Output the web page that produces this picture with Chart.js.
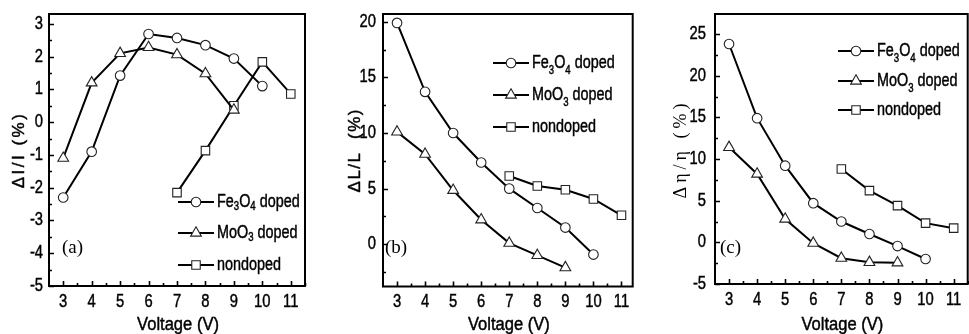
<!DOCTYPE html>
<html>
<head>
<meta charset="utf-8">
<script src="https://cdn.jsdelivr.net/npm/chart.js@4.4.0/dist/chart.umd.min.js"></script>
<style>
  html, body { margin: 0; padding: 0; background: #fff; overflow: hidden; width: 969px; height: 334px; }
  .panel { position: absolute; top: 0; height: 334px; }
</style>
</head>
<body>
<div class="panel" style="left:0;width:320px"><canvas id="chartA" width="320" height="334"></canvas></div>
<div class="panel" style="left:320px;width:320px"><canvas id="chartB" width="320" height="334"></canvas></div>
<div class="panel" style="left:640px;width:335px"><canvas id="chartC" width="335" height="334"></canvas></div>
<script>
// ** data
var seriesLabels = ['Fe_3O_4 doped', 'MoO_3 doped', 'nondoped'];
var feVolts = [3, 4, 5, 6, 7, 8, 9, 10];
var moVolts = [3, 4, 5, 6, 7, 8, 9];
var ndVolts = [7, 8, 9, 10, 11];
var xTicks = [3, 4, 5, 6, 7, 8, 9, 10, 11];

// (a) delta I / I
var aFe = [-2.3, -0.9, 1.42, 2.69, 2.57, 2.35, 1.94, 1.1];
var aMo = [-1.1, 1.2, 2.1, 2.28, 2.06, 1.48, 0.37];
var aNd = [-2.15, -0.87, 0.5, 1.84, 0.86];
var aYTicks = [-5, -4, -3, -2, -1, 0, 1, 2, 3];

// (b) delta L / L
var bFe = [19.9, 13.7, 10.0, 7.35, 5.0, 3.26, 1.5, -0.93];
var bMo = [10.1, 8.1, 4.85, 2.2, 0.1, -1.0, -2.1];
var bNd = [6.13, 5.23, 4.9, 4.07, 2.6];
var bYTicks = [0, 5, 10, 15, 20];

// (c) delta eta / eta
var cFe = [23.8, 14.9, 9.2, 4.7, 2.5, 1.0, -0.45, -2.0];
var cMo = [11.4, 8.2, 2.8, -0.1, -1.9, -2.4, -2.45];
var cNd = [8.8, 6.2, 4.4, 2.3, 1.7];
var cYTicks = [-5, 0, 5, 10, 15, 20, 25];

var SANS = '"Liberation Sans", Arial, sans-serif';
var SERIF = '"Liberation Serif", "Times New Roman", serif';
var FS = 18;
var markers = ['circle', 'triangle', 'rect'];
var markerRadius = [4.8, 6.2, 6];

function pts(xs, ys) {
	return xs.map(function(x, i) { return {x: x, y: ys[i]}; });
}

// text squeezed horizontally (Arial Narrow look), optionally rotated / spaced
function drawText(ctx, str, x, y, align, font, sx, rot, spacing, heavy) {
	ctx.save();
	ctx.translate(x, y);
	if (rot) ctx.rotate(rot);
	ctx.scale(sx, 1);
	ctx.font = font;
	ctx.letterSpacing = (spacing || 0) + 'px';
	ctx.textAlign = align;
	ctx.textBaseline = 'middle';
	ctx.fillText(str, 0, 0);
	if (heavy) {
		ctx.strokeStyle = '#000';
		ctx.lineWidth = 0.45;
		ctx.strokeText(str, 0, 0);
	}
	ctx.restore();
}

// '_' turns the next char into a subscript
function drawRich(ctx, str, x, y, size, sx, subDrop) {
	ctx.save();
	ctx.translate(x, y);
	ctx.scale(sx, 1);
	ctx.textAlign = 'left';
	ctx.textBaseline = 'middle';
	ctx.strokeStyle = '#000';
	ctx.lineWidth = 0.45;
	var cx = 0;
	for (var i = 0; i < str.length; i++) {
		var ch = str[i], sub = false;
		if (ch === '_') { sub = true; ch = str[++i]; }
		ctx.font = (sub ? Math.round(size * 0.68) : size) + 'px ' + SANS;
		ctx.fillText(ch, cx, sub ? subDrop : 0);
		ctx.strokeText(ch, cx, sub ? subDrop : 0);
		cx += ctx.measureText(ch).width;
	}
	ctx.restore();
}

var framePlugin = {
	id: 'frame',
	afterDraw: function(chart) {
		var ctx = chart.ctx, ca = chart.chartArea;
		var o = chart.options.plugins.frame;
		var xs = chart.scales.x, ys = chart.scales.y;
		ctx.save();
		ctx.strokeStyle = '#000';
		ctx.lineWidth = 2;
		ctx.strokeRect(ca.left, ca.top, ca.right - ca.left, ca.bottom - ca.top);

		// inward ticks, minor ones between the labelled ones
		ctx.lineWidth = 1.6;
		ctx.beginPath();
		for (var v = xs.min + 0.5; v <= xs.max + 1e-9; v += 0.5) {
			var px = Math.round(xs.getPixelForValue(v)) + 0.5;
			var len = (Math.abs(v - Math.round(v)) < 1e-9) ? 5 : 3;
			ctx.moveTo(px, ca.bottom);
			ctx.lineTo(px, ca.bottom - len);
		}
		var start = Math.ceil(ys.min / o.yMinor) * o.yMinor;
		for (var w = start; w <= ys.max + 1e-9; w += o.yMinor) {
			var py = Math.round(ys.getPixelForValue(w)) + 0.5;
			var isMajor = Math.abs(w / o.yMajor - Math.round(w / o.yMajor)) < 1e-6;
			ctx.moveTo(ca.left, py);
			ctx.lineTo(ca.left + (isMajor ? 5 : 3), py);
		}
		ctx.stroke();

		// tick labels and axis titles
		ctx.fillStyle = '#000';
		var f = FS + 'px ' + SANS;
		xs.ticks.forEach(function(t) {
			drawText(ctx, String(t.value), xs.getPixelForValue(t.value), ca.bottom + 16, 'center', f, 0.82, 0, 0, true);
		});
		ys.ticks.forEach(function(t) {
			drawText(ctx, String(t.value), ca.left - o.yLabelGap, ys.getPixelForValue(t.value), 'right', f, 0.82, 0, 0, true);
		});
		drawText(ctx, 'Voltage (V)', (ca.left + ca.right) / 2 + 1, 325, 'center', f, 0.92, 0, 0, true);
		var tf = o.yTitleSerif ? FS + 'px ' + SERIF : '17px ' + SANS;
		drawText(ctx, o.yTitle, o.yTitleX, (ca.top + ca.bottom) / 2, 'center', tf, 1, -Math.PI / 2, o.yTitleSpacing, !o.yTitleSerif);

		// panel letter
		drawText(ctx, o.tag, o.tagX, o.tagY, 'left', '19px ' + SERIF, 1);

		// legend: line + marker + label
		chart.data.datasets.forEach(function(ds, i) {
			var y = o.legendY[i];
			ctx.strokeStyle = '#000';
			ctx.lineWidth = 2;
			ctx.beginPath();
			ctx.moveTo(o.legendX, y);
			ctx.lineTo(o.legendX + 36, y);
			ctx.stroke();
			ctx.fillStyle = '#fff';
			ctx.strokeStyle = '#222';
			ctx.lineWidth = 1.1;
			Chart.helpers.drawPoint(ctx, {pointStyle: ds.pointStyle, radius: ds.pointRadius, rotation: 0, borderWidth: 1.1}, o.legendX + 18, y);
			ctx.fillStyle = '#000';
			drawRich(ctx, ds.label, o.legendX + 39, y, FS, 0.8, o.subDrop);
		});
		ctx.restore();
	}
};

function makePanel(id, p) {
	var sets = [pts(feVolts, p.fe), pts(moVolts, p.mo), pts(ndVolts, p.nd)];
	var datasets = sets.map(function(d, i) {
		return {
			label: seriesLabels[i],
			data: d,
			borderColor: '#000',
			borderWidth: 2,
			pointStyle: markers[i],
			pointRadius: markerRadius[i],
			pointBackgroundColor: '#fff',
			pointBorderColor: '#222',
			pointBorderWidth: 1.1,
			tension: 0,
			clip: false
		};
	});
	return new Chart(document.getElementById(id), {
		type: 'line',
		data: {datasets: datasets},
		options: {
			responsive: false,
			animation: false,
			events: [],
			layout: {padding: {top: 14, right: p.padRight, left: 0, bottom: 0}},
			plugins: {
				legend: {display: false},
				tooltip: {enabled: false},
				frame: {
					tag: p.tag, tagX: p.tagX, tagY: 248,
					legendX: p.legendX, legendY: p.legendY, subDrop: p.subDrop,
					yMajor: p.yMajor, yMinor: p.yMinor, yLabelGap: p.yLabelGap,
					yTitle: p.yTitle, yTitleX: p.yTitleX, yTitleSerif: p.yTitleSerif,
					yTitleSpacing: p.yTitleSpacing
				}
			},
			scales: {
				x: {
					type: 'linear',
					min: 2.5,
					max: p.xMax,
					afterBuildTicks: function(s) { s.ticks = xTicks.map(function(v) { return {value: v}; }); },
					afterFit: function(s) { s.height = 334 - p.bottom; },
					grid: {display: false, drawTicks: false},
					border: {display: false},
					ticks: {display: false}
				},
				y: {
					type: 'linear',
					min: p.yMin,
					max: p.yMax,
					afterBuildTicks: function(s) { s.ticks = p.yTicks.map(function(v) { return {value: v}; }); },
					afterFit: function(s) { s.width = p.left; },
					grid: {display: false, drawTicks: false},
					border: {display: false},
					ticks: {display: false}
				}
			}
		},
		plugins: [framePlugin]
	});
}

makePanel('chartA', {
	fe: aFe, mo: aMo, nd: aNd, yTicks: aYTicks,
	yMin: -5, yMax: 3.3, yMajor: 1, yMinor: 0.5, xMax: 11.5,
	left: 49, padRight: 15, bottom: 286, yLabelGap: 6,
	yTitle: '\u0394I/I (%)', yTitleX: 19, yTitleSerif: false, yTitleSpacing: 2.5,
	tag: '(a)', tagX: 62, legendX: 178, legendY: [202, 233, 265], subDrop: 5
});
makePanel('chartB', {
	fe: bFe, mo: bMo, nd: bNd, yTicks: bYTicks,
	yMin: -3.8, yMax: 20.7, yMajor: 5, yMinor: 2.5, xMax: 11.4,
	left: 63, padRight: 5, bottom: 286.5, yLabelGap: 7,
	yTitle: '\u0394L/L  (%)', yTitleX: 35, yTitleSerif: false, yTitleSpacing: 1.5,
	tag: '(b)', tagX: 65, legendX: 173, legendY: [63, 95, 127], subDrop: 8
});
makePanel('chartC', {
	fe: cFe, mo: cMo, nd: cNd, yTicks: cYTicks,
	yMin: -5, yMax: 27.4, yMajor: 5, yMinor: 2.5, xMax: 11.5,
	left: 75, padRight: 4, bottom: 284, yLabelGap: 9,
	yTitle: '\u0394\u03b7/\u03b7 (%)', yTitleX: 41, yTitleSerif: true, yTitleSpacing: 4,
	tag: '(c)', tagX: 80, legendX: 198, legendY: [51, 81, 110], subDrop: 8
});
</script>
</body>
</html>
